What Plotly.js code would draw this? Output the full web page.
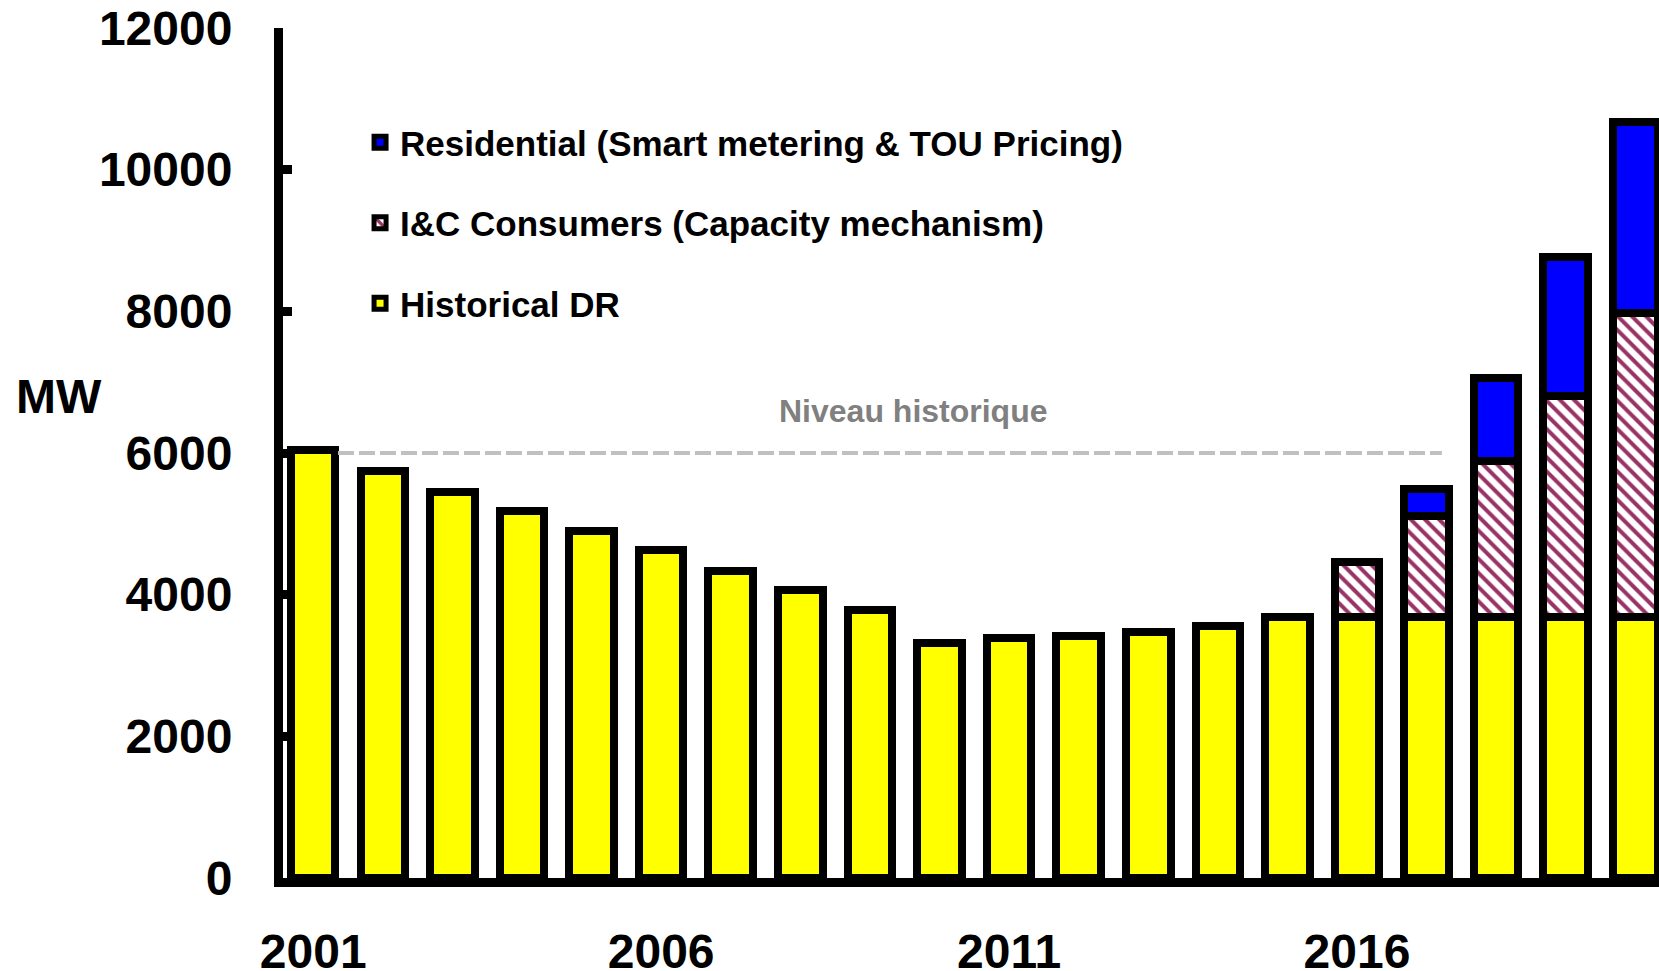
<!DOCTYPE html>
<html>
<head>
<meta charset="utf-8">
<script src="https://cdn.plot.ly/plotly-3.0.1.min.js"></script>
<style>
  html, body { margin: 0; padding: 0; background: #ffffff; }
  #graphique { width: 1659px; height: 971px; }
</style>
</head>
<body>
<div id="graphique"></div>
<script>
// Années et valeurs (MW)
const annees = [2001, 2002, 2003, 2004, 2005, 2006, 2007, 2008, 2009, 2010,
                2011, 2012, 2013, 2014, 2015, 2016, 2017, 2018, 2019, 2020];
const historiqueDR = [6040, 5740, 5450, 5180, 4900, 4630, 4330, 4070, 3780, 3320,
                      3390, 3420, 3480, 3555, 3680, 3690, 3690, 3690, 3690, 3690];
const consommateursIC = [null, null, null, null, null, null, null, null, null, null,
                         null, null, null, null, null, 765, 1425, 2200, 3115, 4290];
const residentiel = [null, null, null, null, null, null, null, null, null, null,
                     null, null, null, null, null, null, 370, 1175, 1965, 2690];
const anneesAffichees = [2001, 2006, 2011, 2016];
const niveauHistorique = 6000;

const police = 'Arial, "Liberation Sans", sans-serif';
const contour = { color: '#000000', width: 8 };

const data = [
    {
        x: annees,
        y: historiqueDR,
        name: 'Historical DR',
        type: 'bar',
        legendgroup: 'a',
        legendrank: 3,
        marker: { color: '#ffff00', line: contour }
    },
    {
        x: annees,
        y: consommateursIC,
        name: 'I&C Consumers (Capacity mechanism)',
        type: 'bar',
        legendgroup: 'b',
        legendrank: 2,
        marker: {
            color: '#ffffff',
            line: contour,
            pattern: { shape: '\\', fgcolor: '#993366', bgcolor: '#ffffff', size: 10, solidity: 0.4 }
        }
    },
    {
        x: annees,
        y: residentiel,
        name: 'Residential (Smart metering & TOU Pricing)',
        type: 'bar',
        legendgroup: 'c',
        legendrank: 1,
        marker: { color: '#0000ff', line: contour }
    }
];

const layout = {
    width: 1659,
    height: 971,
    margin: { l: 283, r: 0, t: 28, b: 93 },
    barmode: 'stack',
    bargap: 0.36,
    showlegend: true,
    legend: {
        x: 0.056, y: 0.9, xanchor: 'left', yanchor: 'top',
        traceorder: 'grouped',
        tracegroupgap: 32,
        bgcolor: 'rgba(0,0,0,0)',
        font: { family: police, size: 35, color: '#000000', weight: 'bold' }
    },
    xaxis: {
        range: [2000.566, 2020.34],
        tickvals: anneesAffichees,
        showline: true, linewidth: 9, linecolor: '#000000',
        showgrid: false, zeroline: false, ticks: '',
        ticklabelstandoff: 23,
        tickfont: { family: police, size: 48, color: '#000000', weight: 'bold' }
    },
    yaxis: {
        range: [0, 12000],
        dtick: 2000,
        tickformat: 'd',
        showline: true, linewidth: 9, linecolor: '#000000',
        showgrid: false, zeroline: false,
        ticks: 'inside', ticklen: 9, tickwidth: 9, tickcolor: '#000000',
        ticklabelstandoff: 32,
        tickfont: { family: police, size: 48, color: '#000000', weight: 'bold' }
    },
    shapes: [
        {
            type: 'line', xref: 'x', yref: 'y',
            x0: 2001.356, x1: 2017.22, y0: niveauHistorique, y1: niveauHistorique,
            line: { color: '#c0c0c0', width: 4, dash: '16px,5px' }
        }
    ],
    annotations: [
        {
            text: 'MW', xref: 'paper', yref: 'paper', x: -0.163, y: 0.566,
            xanchor: 'center', yanchor: 'middle',
            showarrow: false,
            font: { family: police, size: 48, color: '#000000', weight: 'bold' }
        },
        {
            text: 'Niveau historique', xref: 'x', yref: 'y', x: 2009.63, y: 6600,
            xanchor: 'center', yanchor: 'middle',
            showarrow: false,
            font: { family: police, size: 32, color: '#808080', weight: 'bold' }
        }
    ],
    plot_bgcolor: '#ffffff',
    paper_bgcolor: '#ffffff'
};

Plotly.newPlot('graphique', data, layout, { displayModeBar: false });
</script>
</body>
</html>
